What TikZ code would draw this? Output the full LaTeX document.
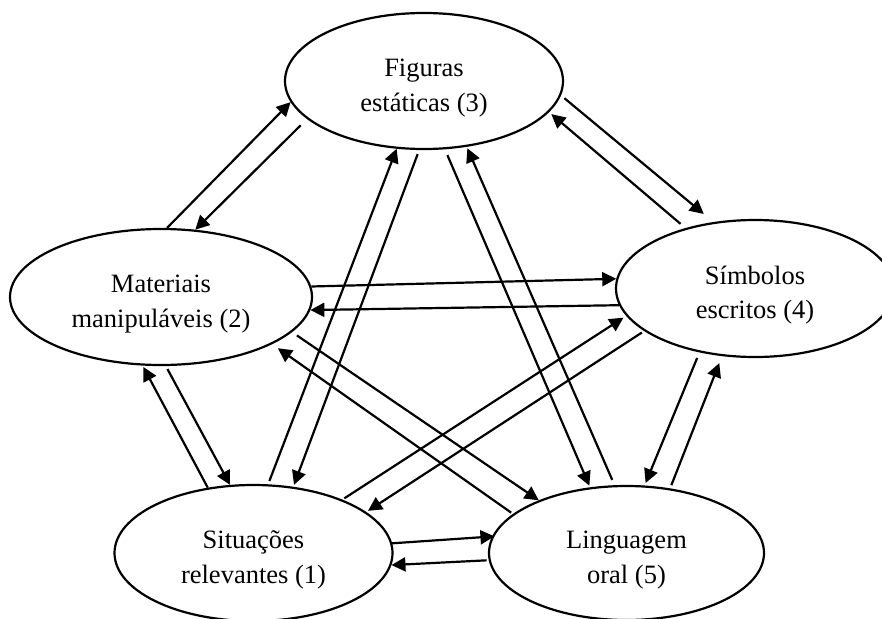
\documentclass[tikz,border=0pt]{standalone}
\usepackage{fontspec}
\setmainfont{Liberation Serif}
\usetikzlibrary{arrows.meta,shapes.geometric}
\begin{document}
\begin{tikzpicture}[x=1pt,y=-1pt,
  rep/.style={ellipse, draw, line width=2.2pt, inner sep=0pt,
    font=\fontsize{26.5}{34.5}\selectfont, text height=20pt, text depth=29pt},
  link/.style={line width=2.2pt, -{Triangle[length=14pt,width=14pt]}}]
\clip (0,0) rectangle (882,618);

% the five representations
\node[rep, minimum width=278pt, minimum height=136pt] (n3) at (424,81)
  {\begin{tabular}[t]{@{}c@{}}Figuras\\estáticas (3)\end{tabular}};
\node[rep, minimum width=302pt, minimum height=136pt] (n2) at (161,297)
  {\begin{tabular}[t]{@{}c@{}}Materiais\\manipuláveis (2)\end{tabular}};
\node[rep, minimum width=278pt, minimum height=137pt] (n4) at (755,288.5)
  {\begin{tabular}[t]{@{}c@{}}Símbolos\\escritos (4)\end{tabular}};
\node[rep, minimum width=278pt, minimum height=136pt] (n1) at (253.5,553)
  {\begin{tabular}[t]{@{}c@{}}Situações\\relevantes (1)\end{tabular}};
\node[rep, minimum width=275pt, minimum height=134pt] (n5) at (626.5,553)
  {\begin{tabular}[t]{@{}c@{}}Linguagem\\oral (5)\end{tabular}};

% translations between representations
\draw[link] (n2.85) -- (n3.189.5);
\draw[link, shorten <=9pt] (n3.198.6) -- (n2.63.4);

\draw[link, shorten <=4.4pt, shorten >=12.6pt] (n3.354.5) -- (n4.122.3);
\draw[link, shorten <=6.5pt, shorten >=3pt] (n4.139.8) -- (n3.346.4);

\draw[link, shorten <=3.6pt] (n1.78.5) -- (n3.248.8);
\draw[link, shorten <=4.3pt, shorten >=2pt] (n3.266.2) -- (n1.59.8);

\draw[link, shorten <=6.3pt, shorten >=1.8pt] (n3.287.8) -- (n5.119.9);
\draw[link, shorten <=5.8pt, shorten >=1.6pt] (n5.100.8) -- (n3.303.7);

\draw[link] (n2.4.6) -- (n4.176.9);
\draw[link] (n4.187.8) -- (n2.355.4);

\draw[link, shorten >=1.5pt] (n1.125.1) -- (n2.255.4);
\draw[link, shorten <=3.4pt] (n2.274.5) -- (n1.109);

\draw[link, shorten <=5.9pt] (n2.345.6) -- (n5.149.6);
\draw[link, shorten <=2.2pt, shorten >=7pt] (n5.161.6) -- (n2.337.6);

\draw[link, shorten <=2.3pt, shorten >=3.3pt] (n1.31.2) -- (n4.192.8);
\draw[link, shorten <=2.7pt, shorten >=2.1pt] (n4.201) -- (n1.20.4);

\draw[link, shorten >=-2.4pt] (n1.4.5) -- (n5.173.5);
\draw[link, shorten <=2pt] (n5.183.7) -- (n1.355.5);

\draw[link, shorten <=6pt, shorten >=2.7pt] (n4.229.1) -- (n5.75.7);
\draw[link, shorten <=3.5pt, shorten >=7.5pt] (n5.56.8) -- (n4.244.3);
\end{tikzpicture}
\end{document}
